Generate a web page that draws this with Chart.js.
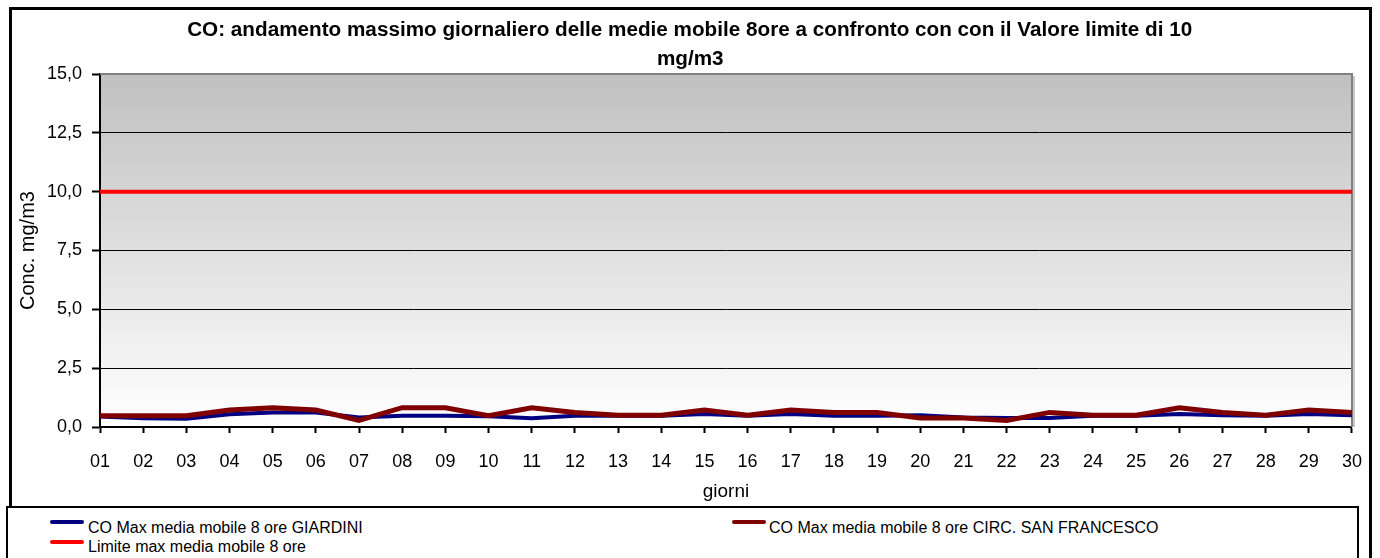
<!DOCTYPE html>
<html><head><meta charset="utf-8">
<script src="https://cdn.jsdelivr.net/npm/chart.js@4.4.1/dist/chart.umd.min.js"></script>
<style>
body{margin:0;background:#fff;}
#wrap{position:relative;width:1380px;height:558px;overflow:hidden;font-family:"Liberation Sans",Arial,sans-serif;color:#000;}
#c{position:absolute;left:0;top:0;}
.box{position:absolute;box-sizing:border-box;}
#frame{left:9px;top:7px;width:1363px;height:620px;border:3px solid #000;}
#legbox{left:6px;top:506px;width:1353px;height:80px;border:2px solid #000;background:#fff;}
.title{position:absolute;left:0;width:1380px;text-align:center;font-weight:bold;font-size:20px;line-height:23px;white-space:nowrap;}
.title span{display:inline-block;transform-origin:center;}
.lg{position:absolute;font-size:16px;white-space:nowrap;}
.sw{position:absolute;height:4px;width:34px;border-radius:2px;}
</style></head>
<body>
<div id="wrap">
  <div class="box" id="frame"></div>
  <canvas id="c" width="1380" height="558"></canvas>
  <div class="title" id="t1" style="top:18px"><span>CO: andamento massimo giornaliero delle medie mobile 8ore a confronto con con il Valore limite di 10</span></div>
  <div class="title" id="t2" style="top:47px"><span>mg/m3</span></div>
  <div class="box" id="legbox"></div>
  <div class="sw" style="left:50px;top:520px;background:#000080"></div>
  <div class="lg" style="left:88px;top:519px">CO Max media mobile 8 ore GIARDINI</div>
  <div class="sw" style="left:732px;top:520px;background:#800000"></div>
  <div class="lg" style="left:769px;top:519px">CO Max media mobile 8 ore CIRC. SAN FRANCESCO</div>
  <div class="sw" style="left:50px;top:540px;background:#ff0000"></div>
  <div class="lg" style="left:88px;top:538px">Limite max media mobile 8 ore</div>
</div>
<script>
const days = ['01','02','03','04','05','06','07','08','09','10','11','12','13','14','15','16','17','18','19','20','21','22','23','24','25','26','27','28','29','30'];
const giardini = [0.45,0.37,0.35,0.54,0.62,0.62,0.40,0.48,0.48,0.46,0.37,0.48,0.48,0.48,0.55,0.48,0.55,0.48,0.48,0.50,0.40,0.38,0.38,0.48,0.48,0.55,0.50,0.48,0.55,0.50];
const sanFrancesco = [0.48,0.48,0.48,0.72,0.82,0.72,0.28,0.82,0.82,0.48,0.82,0.62,0.50,0.50,0.72,0.50,0.72,0.62,0.62,0.38,0.38,0.28,0.62,0.50,0.50,0.82,0.62,0.50,0.72,0.62];
const limite = days.map(() => 10);
const yTickLabels = ['0,0','2,5','5,0','7,5','10,0','12,5','15,0'];

// fit title width like the reference
(function(){
  const cv = document.createElement('canvas').getContext('2d');
  cv.font = 'bold 20px "Liberation Sans"';
  const w = cv.measureText(document.querySelector('#t1 span').textContent).width;
  const s = 1005 / w;
  document.querySelectorAll('.title span').forEach(e => e.style.transform = 'scaleX(' + s + ')');
})();

const bgPlugin = {
  id: 'bg',
  beforeDraw(chart) {
    const {ctx, chartArea: a} = chart;
    const g = ctx.createLinearGradient(0, a.top, 0, a.bottom);
    g.addColorStop(0, '#c0c0c0');
    g.addColorStop(1, '#ffffff');
    ctx.save();
    ctx.fillStyle = g;
    ctx.fillRect(a.left, a.top, a.right - a.left, a.bottom - a.top);
    ctx.restore();
  },
  beforeDatasetsDraw(chart) {
    const {ctx, chartArea: a} = chart;
    ctx.save();
    ctx.strokeStyle = '#c8c8c8';
    ctx.lineWidth = 2;
    ctx.beginPath();
    ctx.moveTo(a.right + 2, a.top + 2);
    ctx.lineTo(a.right + 2, a.bottom);
    ctx.stroke();
    ctx.strokeStyle = '#808080';
    ctx.beginPath();
    ctx.moveTo(a.left, a.top);
    ctx.lineTo(a.right, a.top);
    ctx.lineTo(a.right, a.bottom);
    ctx.stroke();
    ctx.restore();
  }
};

new Chart(document.getElementById('c'), {
  type: 'line',
  data: {
    labels: days,
    datasets: [
      {label: 'CO Max media mobile 8 ore GIARDINI', data: giardini, borderColor: '#000080', borderWidth: 4, pointRadius: 0, order: 3, tension: 0},
      {label: 'CO Max media mobile 8 ore CIRC. SAN FRANCESCO', data: sanFrancesco, borderColor: '#800000', borderWidth: 5, pointRadius: 0, order: 2, tension: 0},
      {label: 'Limite max media mobile 8 ore', data: limite, borderColor: '#ff0000', borderWidth: 4, pointRadius: 0, order: 1, tension: 0}
    ]
  },
  options: {
    responsive: false,
    animation: false,
    layout: {padding: {left: 0, top: 74, right: 21, bottom: 0}},
    plugins: {legend: {display: false}, tooltip: {enabled: false}, title: {display: false}},
    scales: {
      x: {
        offset: false,
        afterFit(s) { s.height = 131; },
        grid: {drawOnChartArea: false, drawTicks: true, tickLength: 6, tickColor: '#000', tickWidth: 2},
        border: {display: true, color: '#000', width: 2},
        ticks: {color: '#000', font: {family: '"Liberation Sans", Arial', size: 18}, padding: 18, maxRotation: 0, autoSkip: false},
        title: {display: true, text: 'giorni', color: '#000', font: {family: '"Liberation Sans", Arial', size: 19}, padding: {top: 55, bottom: 55}}
      },
      y: {
        min: 0, max: 15,
        afterFit(s) { s.width = 100; },
        ticks: {stepSize: 2.5, color: '#000', font: {family: '"Liberation Sans", Arial', size: 18}, padding: 10,
          callback: (v, i) => yTickLabels[i]},
        grid: {
          color: (c) => (c.tick && c.tick.value === 15) ? 'rgba(0,0,0,0)' : '#000',
          lineWidth: 1, tickLength: 8, tickColor: '#000', tickWidth: 2
        },
        border: {display: true, color: '#000', width: 2},
        title: {display: true, text: 'Conc. mg/m3', color: '#000', font: {family: '"Liberation Sans", Arial', size: 20}, padding: {top: 16, bottom: 16}}
      }
    }
  },
  plugins: [bgPlugin]
});
</script>
</body></html>
